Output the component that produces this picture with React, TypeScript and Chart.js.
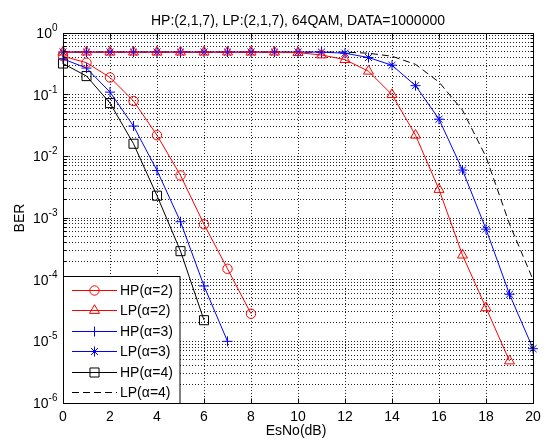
import React, { useEffect, useRef } from 'react';
import { Chart, registerables } from 'chart.js';

Chart.register(...registerables);

// ---------------- data ----------------
const esNo = [0, 1, 2, 3, 4, 5, 6, 7, 8, 9, 10, 11, 12, 13, 14, 15, 16, 17, 18, 19, 20];
const berHpA2 = [0.42, 0.33, 0.19, 0.079, 0.022, 0.0049, 7.9e-4, 1.5e-4, 2.8e-5];
const berLpA2 = [0.49, 0.49, 0.49, 0.49, 0.49, 0.49, 0.49, 0.49, 0.49, 0.49, 0.48, 0.44, 0.37, 0.24, 0.10, 0.022, 0.0029, 2.5e-4, 3.5e-5, 4.8e-6];
const berHpA3 = [0.38, 0.27, 0.11, 0.031, 0.0059, 8.7e-4, 7.9e-5, 1.0e-5];
const berLpA3 = [0.49, 0.49, 0.49, 0.49, 0.49, 0.49, 0.49, 0.49, 0.49, 0.49, 0.49, 0.49, 0.47, 0.40, 0.30, 0.14, 0.040, 0.006, 6.6e-4, 5.8e-5, 7.6e-6];
const berHpA4 = [0.32, 0.20, 0.073, 0.016, 0.0023, 2.9e-4, 2.2e-5];
const berLpA4 = [0.49, 0.49, 0.49, 0.49, 0.49, 0.49, 0.49, 0.49, 0.49, 0.49, 0.49, 0.49, 0.49, 0.47, 0.42, 0.31, 0.16, 0.056, 0.0098, 8.0e-4, 1.0e-4];

const seriesLabels = ['HP(α=2)', 'LP(α=2)', 'HP(α=3)', 'LP(α=3)', 'HP(α=4)', 'LP(α=4)'];
const xTickValues = [0, 2, 4, 6, 8, 10, 12, 14, 16, 18, 20];
const yExponents = [0, -1, -2, -3, -4, -5, -6];
const titleText = 'HP:(2,1,7), LP:(2,1,7), 64QAM, DATA=1000000';
const xAxisLabel = 'EsNo(dB)';
const yAxisLabel = 'BER';

// ---------------- styles ----------------
const FAMILY = '"Liberation Sans", Arial, Helvetica, sans-serif';
const styles = [
  { color: '#ff0000', point: 'circle', radius: 4.7, dash: [] as number[] },
  { color: '#ff0000', point: 'triangle', radius: 5.8, dash: [] as number[] },
  { color: '#0000ff', point: 'cross', radius: 5, dash: [] as number[] },
  { color: '#0000ff', point: 'star', radius: 5, dash: [] as number[] },
  { color: '#000000', point: 'rect', radius: 6.4, dash: [] as number[] },
  { color: '#000000', point: 'none', radius: 0, dash: [7, 4] },
];
const seriesData = [berHpA2, berLpA2, berHpA3, berLpA3, berHpA4, berLpA4];

function drawMarker(ctx: CanvasRenderingContext2D, style: string, x: number, y: number, r: number) {
  ctx.beginPath();
  if (style === 'circle') {
    ctx.arc(x, y, r, 0, Math.PI * 2);
  } else if (style === 'triangle') {
    let rad = 0;
    ctx.moveTo(x + Math.sin(rad) * r, y - Math.cos(rad) * r);
    rad += (2 * Math.PI) / 3;
    ctx.lineTo(x + Math.sin(rad) * r, y - Math.cos(rad) * r);
    rad += (2 * Math.PI) / 3;
    ctx.lineTo(x + Math.sin(rad) * r, y - Math.cos(rad) * r);
    ctx.closePath();
  } else if (style === 'cross') {
    ctx.moveTo(x - r, y); ctx.lineTo(x + r, y);
    ctx.moveTo(x, y - r); ctx.lineTo(x, y + r);
  } else if (style === 'star') {
    ctx.moveTo(x - r, y); ctx.lineTo(x + r, y);
    ctx.moveTo(x, y - r); ctx.lineTo(x, y + r);
    const d = r * Math.SQRT1_2;
    ctx.moveTo(x - d, y - d); ctx.lineTo(x + d, y + d);
    ctx.moveTo(x - d, y + d); ctx.lineTo(x + d, y - d);
  } else if (style === 'rect') {
    const s = Math.SQRT1_2 * r;
    ctx.rect(x - s, y - s, 2 * s, 2 * s);
  }
  ctx.stroke();
}

const align = (p: number) => Math.round(p - 0.5) + 0.5;

function minorValues(): number[] {
  const vals: number[] = [];
  for (let e = -6; e < 0; e++) {
    for (let m = 1; m <= 9; m++) vals.push(m * Math.pow(10, e));
  }
  vals.push(1);
  return vals;
}

const gridPlugin = {
  id: 'matlabGrid',
  beforeDatasetsDraw(chart: any) {
    const { ctx, chartArea: a, scales } = chart;
    const xs = scales.x, ys = scales.y;
    ctx.save();
    ctx.strokeStyle = '#222';
    ctx.lineWidth = 1;
    ctx.setLineDash([1, 2]);
    ctx.beginPath();
    for (const v of xTickValues) {
      const px = align(xs.getPixelForValue(v));
      ctx.moveTo(px, a.top); ctx.lineTo(px, a.bottom);
    }
    for (const v of minorValues()) {
      const py = align(ys.getPixelForValue(v));
      ctx.moveTo(a.left, py); ctx.lineTo(a.right, py);
    }
    ctx.stroke();
    ctx.restore();
  },
  afterDraw(chart: any) {
    const { ctx, chartArea: a, scales } = chart;
    const xs = scales.x, ys = scales.y;
    ctx.save();
    ctx.setLineDash([]);
    ctx.strokeStyle = '#000';
    ctx.lineWidth = 1;
    const L = align(a.left), R = align(a.right), T = align(a.top), B = align(a.bottom);
    ctx.strokeRect(L, T, R - L, B - T);
    // tick marks inside the box
    ctx.beginPath();
    for (const v of xTickValues) {
      const px = align(xs.getPixelForValue(v));
      ctx.moveTo(px, B); ctx.lineTo(px, B - 5);
      ctx.moveTo(px, T); ctx.lineTo(px, T + 5);
    }
    for (const v of minorValues()) {
      const lg = Math.log10(v);
      const major = Math.abs(lg - Math.round(lg)) < 1e-9;
      const len = major ? 5 : 3;
      const py = align(ys.getPixelForValue(v));
      ctx.moveTo(L, py); ctx.lineTo(L + len, py);
      ctx.moveTo(R, py); ctx.lineTo(R - len, py);
    }
    ctx.stroke();

    // text
    ctx.fillStyle = '#000';
    ctx.font = `14px ${FAMILY}`;
    ctx.textBaseline = 'alphabetic';
    ctx.textAlign = 'center';
    const cx = (a.left + a.right) / 2;
    ctx.fillText(titleText, cx, 25);
    for (const v of xTickValues) {
      ctx.fillText(String(v), xs.getPixelForValue(v), 421);
    }
    ctx.fillText(xAxisLabel, cx - 2, 435);

    // y tick labels 10^e
    ctx.textAlign = 'left';
    for (const e of yExponents) {
      const py = ys.getPixelForValue(Math.pow(10, e));
      ctx.font = `14px ${FAMILY}`;
      const w10 = ctx.measureText('10').width;
      ctx.font = `10px ${FAMILY}`;
      const es = String(e);
      const we = ctx.measureText(es).width;
      const start = 57.5 - w10 - we;
      ctx.font = `14px ${FAMILY}`;
      ctx.fillText('10', start, py + 5);
      ctx.font = `10px ${FAMILY}`;
      ctx.fillText(es, start + w10, py - 2);
    }

    // y axis label
    ctx.font = `14px ${FAMILY}`;
    ctx.save();
    ctx.translate(20, (a.top + a.bottom) / 2);
    ctx.rotate(-Math.PI / 2);
    ctx.textAlign = 'center';
    ctx.textBaseline = 'middle';
    ctx.fillText(yAxisLabel, 0, 0);
    ctx.restore();

    // legend box
    const bx = L, by = 276.5, bw = 180 - L, bh = B - by;
    ctx.fillStyle = '#fff';
    ctx.fillRect(bx, by, bw, bh);
    ctx.strokeStyle = '#000';
    ctx.strokeRect(bx, by, bw, bh);
    ctx.font = `14px ${FAMILY}`;
    ctx.textAlign = 'left';
    ctx.textBaseline = 'middle';
    seriesLabels.forEach((lab, i) => {
      const st = styles[i];
      const ry = Math.round(289.5 + i * 20.5) + 0.5;
      ctx.strokeStyle = st.color;
      ctx.lineWidth = 1;
      ctx.setLineDash(st.dash);
      ctx.beginPath();
      ctx.moveTo(72, ry); ctx.lineTo(117, ry);
      ctx.stroke();
      ctx.setLineDash([]);
      if (st.point !== 'none') drawMarker(ctx, st.point, 94.5, ry, st.radius);
      ctx.fillStyle = '#000';
      ctx.fillText(lab, 120, ry + 0.5);
    });
    ctx.restore();
  },
};

export default function App() {
  const canvasRef = useRef<HTMLCanvasElement | null>(null);

  useEffect(() => {
    if (!canvasRef.current) return;
    const datasets = seriesData.map((arr, i) => ({
      label: seriesLabels[i],
      data: arr.map((v, k) => ({ x: esNo[k], y: v })),
      borderColor: styles[i].color,
      backgroundColor: 'rgba(0,0,0,0)',
      borderWidth: 1,
      borderDash: styles[i].dash,
      pointStyle: styles[i].point === 'none' ? false : (styles[i].point as any),
      pointRadius: styles[i].radius,
      pointBorderColor: styles[i].color,
      pointBackgroundColor: 'rgba(0,0,0,0)',
      pointBorderWidth: 1,
      tension: 0,
      fill: false,
      clip: false as any,
    }));
    const chart = new Chart(canvasRef.current, {
      type: 'line',
      data: { datasets },
      options: {
        animation: false,
        responsive: true,
        maintainAspectRatio: false,
        devicePixelRatio: 1,
        layout: { padding: { left: 63, right: 14, top: 33, bottom: 38 } },
        plugins: {
          legend: { display: false },
          title: { display: false },
          tooltip: { enabled: false },
        },
        scales: {
          x: {
            type: 'linear',
            min: 0,
            max: 20,
            grid: { display: false, drawTicks: false },
            border: { display: false },
            ticks: { display: false, stepSize: 2 },
            afterFit: (s: any) => { s.height = 0; },
          },
          y: {
            type: 'logarithmic',
            min: 1e-6,
            max: 1,
            grid: { display: false, drawTicks: false },
            border: { display: false },
            ticks: { display: false },
            afterFit: (s: any) => { s.width = 0; },
          },
        },
      },
      plugins: [gridPlugin],
    } as any);
    return () => chart.destroy();
  }, []);

  return (
    <div style={{ position: 'fixed', left: 0, top: 0, width: 547, height: 441, background: '#fff' }}>
      <canvas ref={canvasRef} />
    </div>
  );
}
